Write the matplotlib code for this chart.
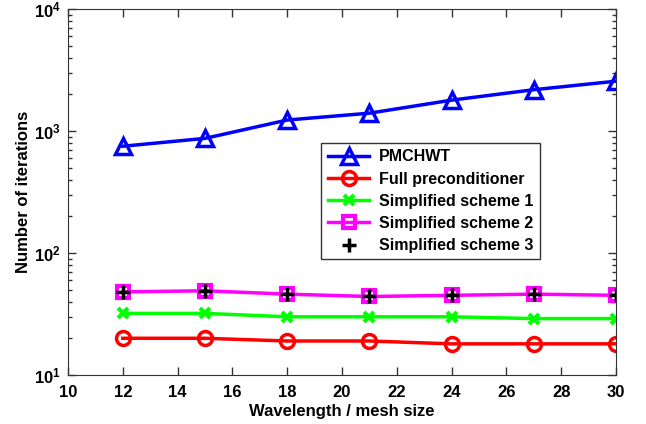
import numpy as np
import matplotlib.pyplot as plt
from matplotlib.ticker import LogLocator, FixedLocator

plt.rcParams['font.family'] = ['Liberation Sans', 'DejaVu Sans']
plt.rcParams['font.weight'] = 'bold'

# mesh density (wavelength / mesh size)
ratio = [12, 15, 18, 21, 24, 27, 30]

# iteration counts per solver
pmchwt = [750, 870, 1230, 1400, 1790, 2180, 2560]
full_prec = [20, 20, 19, 19, 18, 18, 18]
scheme1 = [32, 32, 30, 30, 30, 29, 29]
scheme2 = [48, 49, 46, 44, 45, 46, 45]
scheme3 = [48, 49, 46, 44, 45, 46, 45]

fig = plt.figure(figsize=(6.46, 4.24), dpi=100)
ax = fig.add_axes([68/646, 1 - 375/424, 548/646, 366/424])

ax.plot(ratio, pmchwt, '-^', color='blue', lw=2.5, ms=11, mfc='none', mew=2.5, label='PMCHWT')
ax.plot(ratio, full_prec, '-o', color='red', lw=2.5, ms=10, mfc='none', mew=2.5, label='Full preconditioner')
ax.plot(ratio, scheme1, '-x', color='#00ff00', lw=2.5, ms=7, mew=3, label='Simplified scheme 1')
ax.plot(ratio, scheme2, '-s', color='magenta', lw=2.5, ms=8, mfc='none', mew=3, label='Simplified scheme 2')
ax.plot(ratio, scheme3, '+', color='black', ms=10, mew=2.5, ls='none', label='Simplified scheme 3')

ax.set_yscale('log')
ax.set_xlim(10, 30)
ax.set_ylim(10, 1e4)
ax.xaxis.set_major_locator(FixedLocator(np.arange(10, 31, 2)))
ax.yaxis.set_major_locator(LogLocator(base=10))
ax.yaxis.set_minor_locator(LogLocator(base=10, subs=np.arange(2, 10)))
ax.yaxis.set_minor_formatter(plt.NullFormatter())

ax.tick_params(which='both', direction='in', top=True, right=True, labelsize=12, width=1, color='#333333')
ax.tick_params(which='major', length=6)
ax.tick_params(which='minor', length=3)
ax.tick_params(axis='x', pad=7)
ax.tick_params(axis='y', pad=5)
for s in ax.spines.values():
    s.set_color('#333333')

ax.set_xlabel('Wavelength / mesh size', fontsize=12, fontweight='bold', labelpad=3)
ax.set_ylabel('Number of iterations', fontsize=12, fontweight='bold', labelpad=2)

leg = ax.legend(loc='upper left', bbox_to_anchor=(0.4625, 0.634),
                fancybox=False, framealpha=1, edgecolor='#333333', borderaxespad=0,
                handlelength=2.6, handletextpad=0.6, labelspacing=0.45, borderpad=0.4,
                prop={'weight': 'bold', 'size': 11.5})
leg.get_frame().set_linewidth(1)

fig.savefig('out.png', dpi=100)
